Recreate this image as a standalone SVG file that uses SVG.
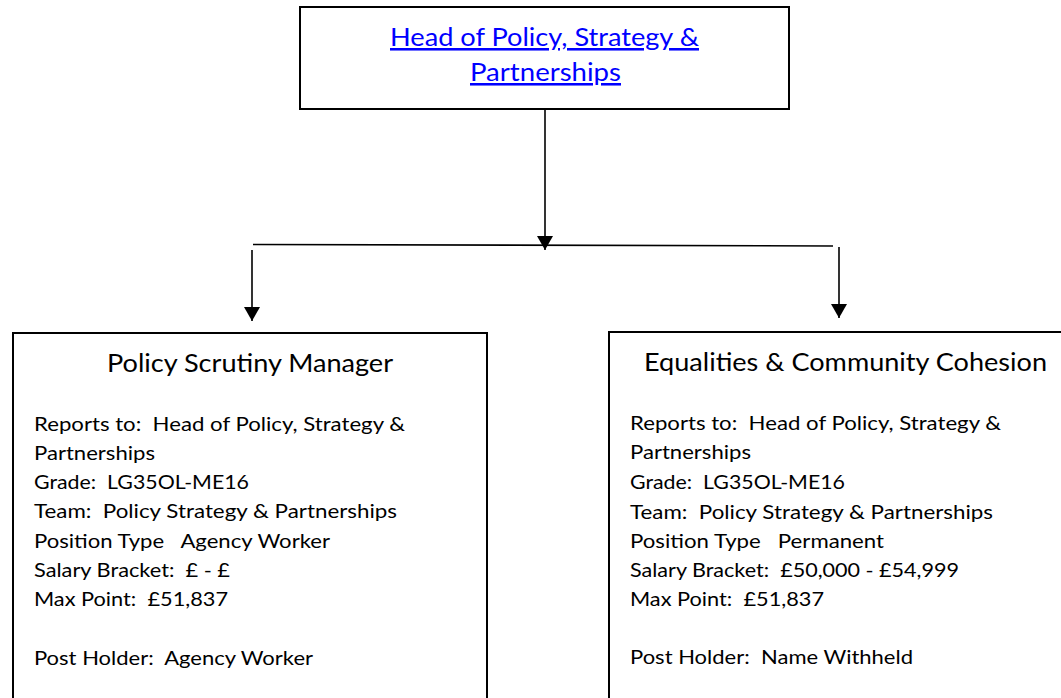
<svg xmlns="http://www.w3.org/2000/svg" width="1061" height="698" viewBox="0 0 1061 698">
  <defs>
    <style>
      .box { fill: #ffffff; stroke: #000000; stroke-width: 2; }
      .conn { fill: none; stroke: #000000; stroke-width: 1.6; }
      .head { font-family: Lato, "Open Sans", sans-serif; font-size: 25.5px; fill: #0000ff; text-decoration: underline; text-anchor: middle; }
      .title { font-family: Lato, "Open Sans", sans-serif; font-size: 25.5px; fill: #000000; text-anchor: middle; }
      .body { font-family: Lato, "Open Sans", sans-serif; font-size: 20px; fill: #000000; white-space: pre; }
    </style>
    <marker id="arrow" viewBox="0 0 14 16" refX="14" refY="8" markerWidth="14" markerHeight="16" markerUnits="userSpaceOnUse" orient="auto">
      <path d="M0,0 L14,8 L0,16 Z" fill="#000000"/>
    </marker>
  </defs>
  <rect width="1061" height="698" fill="#ffffff"/>

  <g id="connectors">
    <line class="conn" x1="545" y1="109" x2="545" y2="250" marker-end="url(#arrow)"/>
    <line class="conn" x1="253" y1="244.5" x2="833" y2="246"/>
    <line class="conn" x1="252" y1="250" x2="252" y2="321" marker-end="url(#arrow)"/>
    <line class="conn" x1="839" y1="247" x2="839" y2="318" marker-end="url(#arrow)"/>
  </g>

  <g id="head">
    <rect class="box" x="300" y="7" width="489" height="102"/>
    <text class="head" x="544.5" y="46" textLength="309" lengthAdjust="spacingAndGlyphs">Head of Policy, Strategy &amp;</text>
    <text class="head" x="545.5" y="81" textLength="151" lengthAdjust="spacingAndGlyphs">Partnerships</text>
  </g>

  <g id="policy-scrutiny-manager">
    <rect class="box" x="13" y="333" width="474" height="400"/>
    <text class="title" x="250" y="372" textLength="286" lengthAdjust="spacingAndGlyphs">Policy Scrutiny Manager</text>
    <text class="body" x="34" y="431" textLength="371" lengthAdjust="spacingAndGlyphs">Reports to:  Head of Policy, Strategy &amp;</text>
    <text class="body" x="34" y="460" textLength="121" lengthAdjust="spacingAndGlyphs">Partnerships</text>
    <text class="body" x="34" y="489" textLength="215" lengthAdjust="spacingAndGlyphs">Grade:  LG35OL-ME16</text>
    <text class="body" x="34" y="518" textLength="363" lengthAdjust="spacingAndGlyphs">Team:  Policy Strategy &amp; Partnerships</text>
    <text class="body" x="34" y="548" textLength="296" lengthAdjust="spacingAndGlyphs">Position Type   Agency Worker</text>
    <text class="body" x="34" y="577" textLength="196" lengthAdjust="spacingAndGlyphs">Salary Bracket:  £ - £</text>
    <text class="body" x="34" y="606" textLength="194" lengthAdjust="spacingAndGlyphs">Max Point:  £51,837</text>
    <text class="body" x="34" y="665" textLength="279" lengthAdjust="spacingAndGlyphs">Post Holder:  Agency Worker</text>
  </g>

  <g id="equalities-community-cohesion">
    <rect class="box" x="609" y="332" width="474" height="400"/>
    <text class="title" x="845.5" y="371" textLength="403" lengthAdjust="spacingAndGlyphs">Equalities &amp; Community Cohesion</text>
    <text class="body" x="630" y="430" textLength="371" lengthAdjust="spacingAndGlyphs">Reports to:  Head of Policy, Strategy &amp;</text>
    <text class="body" x="630" y="459" textLength="121" lengthAdjust="spacingAndGlyphs">Partnerships</text>
    <text class="body" x="630" y="489" textLength="215" lengthAdjust="spacingAndGlyphs">Grade:  LG35OL-ME16</text>
    <text class="body" x="630" y="519" textLength="363" lengthAdjust="spacingAndGlyphs">Team:  Policy Strategy &amp; Partnerships</text>
    <text class="body" x="630" y="548" textLength="254" lengthAdjust="spacingAndGlyphs">Position Type   Permanent</text>
    <text class="body" x="630" y="577" textLength="329" lengthAdjust="spacingAndGlyphs">Salary Bracket:  £50,000 - £54,999</text>
    <text class="body" x="630" y="606" textLength="194" lengthAdjust="spacingAndGlyphs">Max Point:  £51,837</text>
    <text class="body" x="630" y="664" textLength="283" lengthAdjust="spacingAndGlyphs">Post Holder:  Name Withheld</text>
  </g>
</svg>
